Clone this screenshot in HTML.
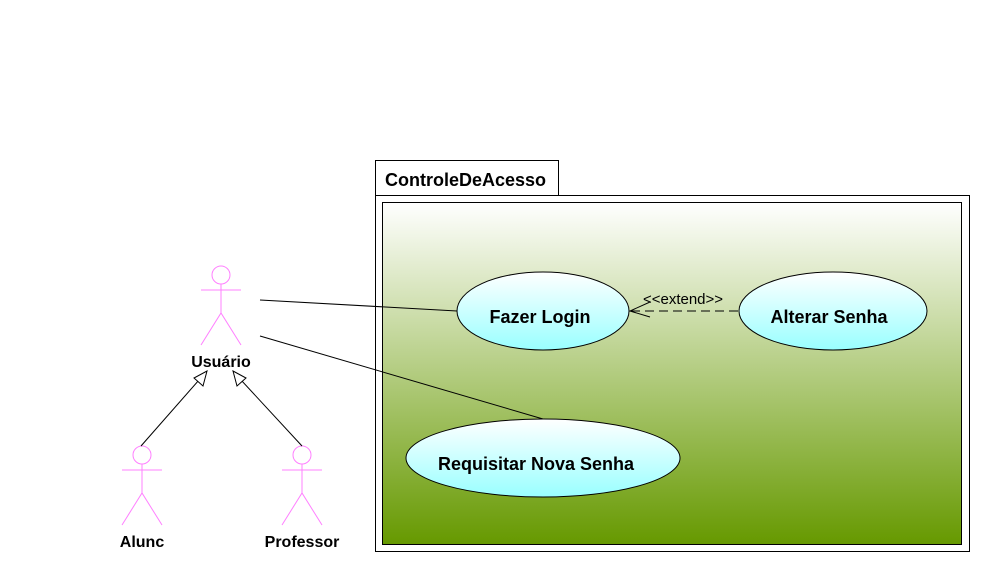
<!DOCTYPE html>
<html><head><meta charset="utf-8"><style>html,body{margin:0;padding:0;background:#fff}</style></head>
<body>
<svg width="1000" height="582" xmlns="http://www.w3.org/2000/svg" font-family="Liberation Sans, Arial, sans-serif">
<defs>
<linearGradient id="pk" x1="0" y1="0" x2="0" y2="1"><stop offset="0" stop-color="#ffffff"/><stop offset="1" stop-color="#669900"/></linearGradient>
<linearGradient id="uc" x1="0" y1="0" x2="0" y2="1"><stop offset="0" stop-color="#ffffff"/><stop offset="1" stop-color="#99ffff"/></linearGradient>
</defs>
<rect width="1000" height="582" fill="#fff"/>
<rect x="375.5" y="160.5" width="183" height="35" fill="#fff" stroke="#000"/>
<text x="385" y="186" font-size="18" font-weight="bold">ControleDeAcesso</text>
<rect x="375.5" y="195.5" width="594" height="356" fill="#fff" stroke="#000"/>
<rect x="382.5" y="202.5" width="579" height="342" fill="url(#pk)" stroke="#000"/>
<line x1="260" y1="300" x2="457" y2="311" stroke="#000"/>
<line x1="260" y1="336" x2="543" y2="419" stroke="#000"/>
<ellipse cx="543" cy="311" rx="86" ry="39" fill="url(#uc)" stroke="#000"/>
<text x="540" y="323" font-size="18" font-weight="bold" text-anchor="middle">Fazer Login</text>
<ellipse cx="833" cy="311" rx="94" ry="39" fill="url(#uc)" stroke="#000"/>
<text x="829" y="323" font-size="18" font-weight="bold" text-anchor="middle">Alterar Senha</text>
<ellipse cx="543" cy="458" rx="137" ry="39" fill="url(#uc)" stroke="#000"/>
<text x="536" y="470" font-size="18" font-weight="bold" text-anchor="middle">Requisitar Nova Senha</text>
<line x1="738" y1="311" x2="631" y2="311" stroke="#000" stroke-dasharray="9,5"/>
<polyline points="650,302 630,311 650,317" fill="none" stroke="#000"/>
<text x="683" y="304" font-size="15" text-anchor="middle">&lt;&lt;extend&gt;&gt;</text>
<g stroke="#ff80ff" fill="none">
<circle cx="221" cy="275" r="9"/><line x1="201" y1="290" x2="241" y2="290"/><line x1="221" y1="284" x2="221" y2="313"/><polyline points="201,345 221,313 241,345"/>
<circle cx="142" cy="455" r="9"/><line x1="122" y1="470" x2="162" y2="470"/><line x1="142" y1="464" x2="142" y2="493"/><polyline points="122,525 142,493 162,525"/>
<circle cx="302" cy="455" r="9"/><line x1="282" y1="470" x2="322" y2="470"/><line x1="302" y1="464" x2="302" y2="493"/><polyline points="282,525 302,493 322,525"/>
</g>
<text x="221" y="367" font-size="16" font-weight="bold" text-anchor="middle">Usuário</text>
<text x="142" y="547" font-size="16" font-weight="bold" text-anchor="middle">Alunc</text>
<text x="302" y="547" font-size="16" font-weight="bold" text-anchor="middle">Professor</text>
<line x1="141" y1="446" x2="199" y2="380" stroke="#000"/>
<polygon points="207,371 203,386 194,378" fill="#fff" stroke="#000"/>
<line x1="302" y1="446" x2="241" y2="380" stroke="#000"/>
<polygon points="233,371 246,378 237,386" fill="#fff" stroke="#000"/>
</svg>
</body></html>
